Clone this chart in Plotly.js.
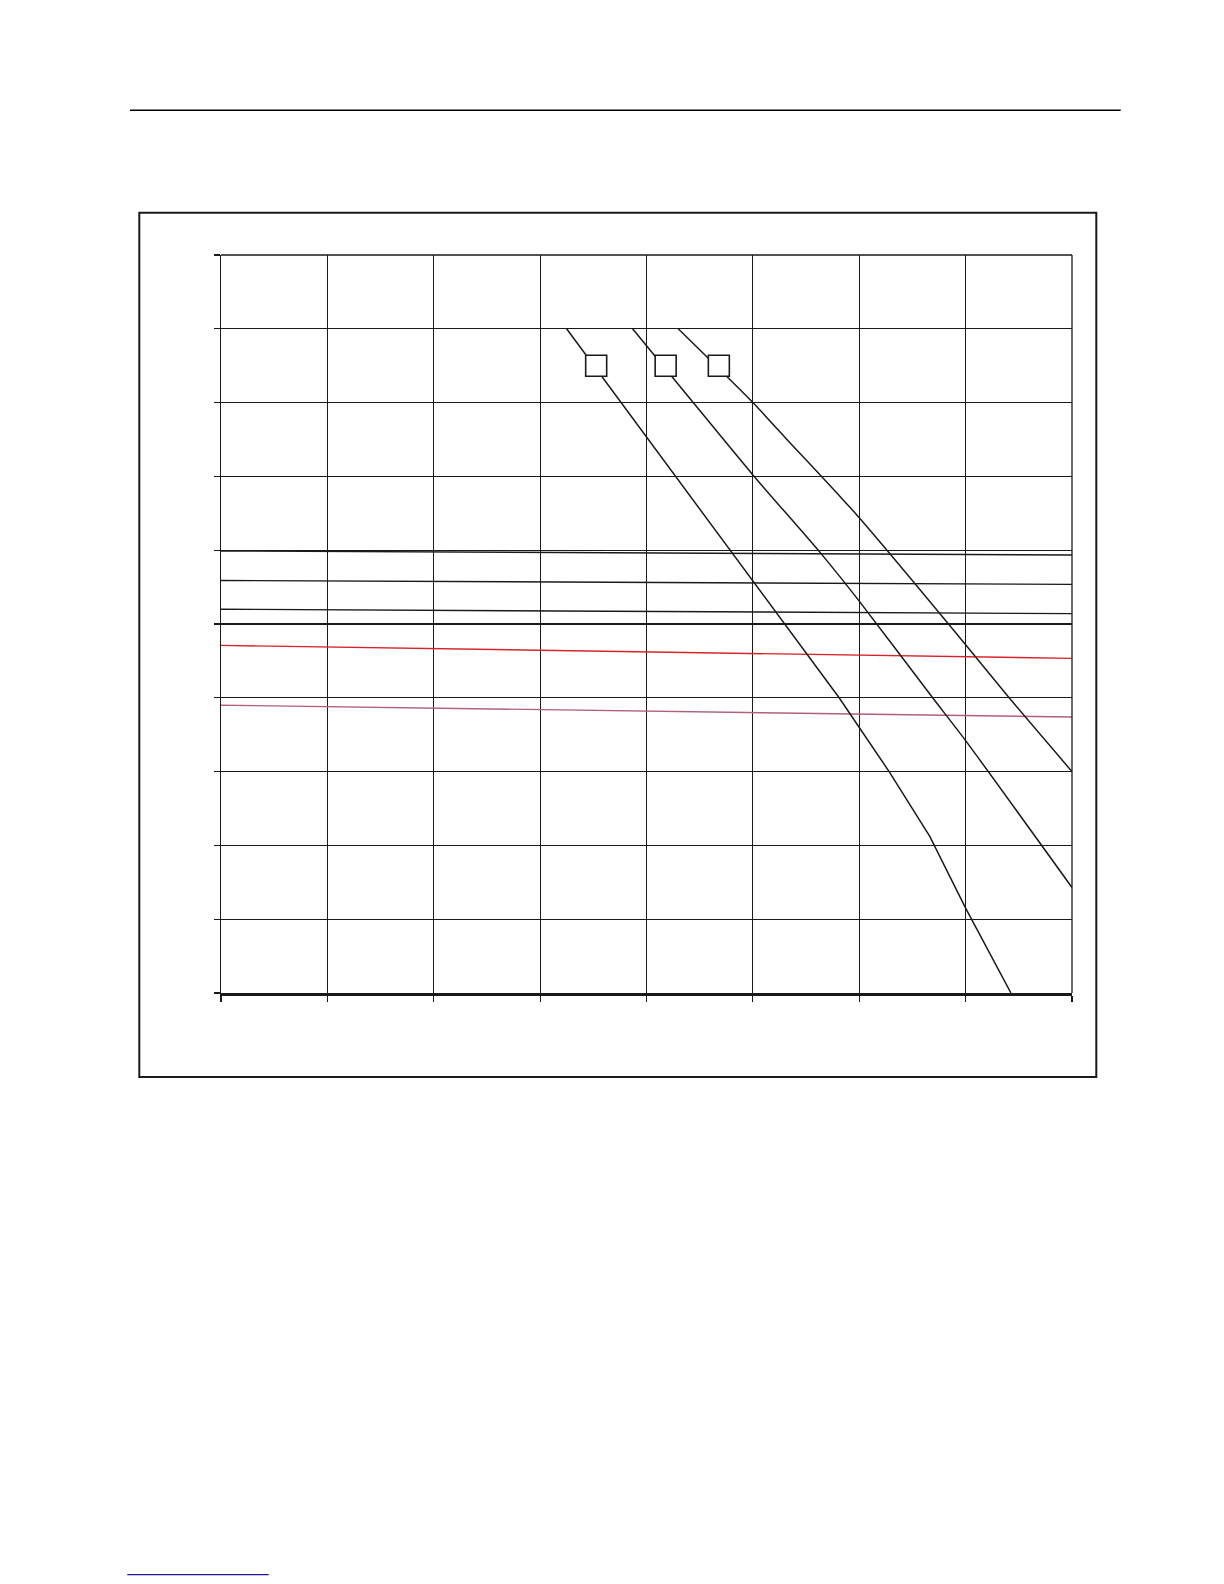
<!DOCTYPE html>
<html>
<head>
<meta charset="utf-8">
<script src="https://cdn.plot.ly/plotly-3.0.1.min.js"></script>
<style>html,body{margin:0;padding:0;background:#fff;}#chart{width:1224px;height:1584px;}</style>
</head>
<body>
<div id="chart"></div>
<script>
// ---- data (axis units: x 0..8, y 0..10) ----
const flatX = [0, 8];
const flat1Y = [5.99, 5.935];
const flat2Y = [5.59, 5.537];
const flat3Y = [5.20, 5.14];
const redY   = [4.71, 4.534];
const pinkY  = [3.90, 3.74];

const curveAX = [3.249, 4.276, 5.0, 5.811, 6.281, 6.663, 7.0, 7.426];
const curveAY = [9.0, 7.0, 5.59, 4.0, 3.0, 2.122, 1.15, 0.0];

const curveBX = [3.869, 4.439, 5.0, 5.639, 6.0, 6.69, 7.0, 8.0];
const curveBY = [9.0, 8.0, 7.02, 5.957, 5.31, 4.0, 3.42, 1.43];

const curveCX = [4.298, 5.0, 5.379, 5.646, 6.0, 7.0, 7.409, 8.0];
const curveCY = [9.0, 8.0, 7.407, 7.0, 6.44, 4.72, 4.0, 3.0];

const boxX = [3.527, 4.18, 4.68];
const boxY = [8.5, 8.5, 8.5];

// ---- layout helpers (pixel -> paper) ----
const L = 221, R = 1072, T = 255, B = 993;
const px = v => (v - L) / (R - L);
const py = v => (B - v) / (B - T);

const black = '#1a1a1a';
function line(x, y, color, w, shape) {
  const ln = {color: color, width: w};
  if (shape) { ln.shape = shape; ln.smoothing = 0.6; }
  return {x: x, y: y, type: 'scatter', mode: 'lines', line: ln, hoverinfo: 'skip', showlegend: false};
}

const traces = [
  line(flatX, flat1Y, black, 1.4),
  line(flatX, flat2Y, black, 1.4),
  line(flatX, flat3Y, black, 1.4),
  line(flatX, redY, '#d8232a', 1.4),
  line(flatX, pinkY, '#b0607e', 1.4),
  line(curveAX, curveAY, black, 1.5),
  line(curveBX, curveBY, black, 1.5, 'spline'),
  line(curveCX, curveCY, black, 1.5, 'spline'),
  {x: boxX, y: boxY, type: 'scatter', mode: 'markers', hoverinfo: 'skip', showlegend: false,
   marker: {symbol: 'square', size: 21, color: '#ffffff', line: {color: black, width: 1.6}}}
];

const axisCommon = {
  showgrid: true, gridcolor: black, gridwidth: 1.2,
  zeroline: false, showticklabels: false,
  ticks: 'outside', ticklen: 6, tickcolor: black, tickwidth: 1.2,
  showline: true, linecolor: black, fixedrange: true
};

const layout = {
  width: 1224, height: 1584, autosize: false,
  margin: {l: L, r: 1224 - R, t: T, b: 1584 - B, pad: 0},
  paper_bgcolor: '#ffffff', plot_bgcolor: '#ffffff',
  showlegend: false,
  xaxis: Object.assign({}, axisCommon, {range: [0, 8], dtick: 1, tick0: 0, linewidth: 3}),
  yaxis: Object.assign({}, axisCommon, {range: [0, 10], dtick: 1, tick0: 0, linewidth: 1.3}),
  shapes: [
    {type: 'line', xref: 'paper', yref: 'paper', x0: 0, x1: 1, y0: 1, y1: 1, line: {color: black, width: 1.3}},
    {type: 'line', xref: 'paper', yref: 'paper', x0: 1, x1: 1, y0: 0, y1: 1, line: {color: black, width: 1.3}},
    {type: 'rect', xref: 'paper', yref: 'paper', x0: px(139.3), x1: px(1096.3), y0: py(1077), y1: py(212.7),
     line: {color: black, width: 2}},
    {type: 'line', xref: 'paper', yref: 'paper', x0: px(130), x1: px(1120.7), y0: py(110.3), y1: py(110.3),
     line: {color: '#000000', width: 1.5}},
    {type: 'line', xref: 'paper', yref: 'paper', x0: px(127.3), x1: px(268.7), y0: py(1574.7), y1: py(1574.7),
     line: {color: '#1a1a9a', width: 1.3}}
  ]
};

Plotly.newPlot('chart', traces, layout, {staticPlot: true, displayModeBar: false});
</script>
</body>
</html>
